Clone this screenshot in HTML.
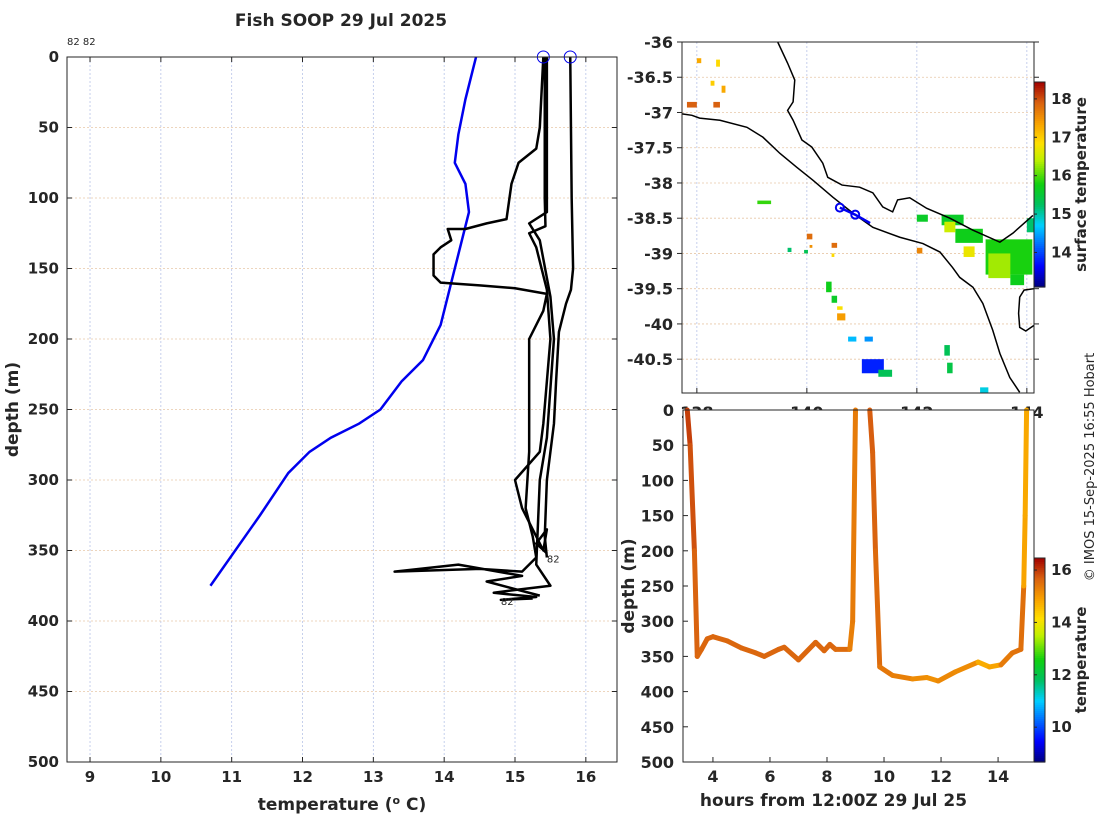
<!DOCTYPE html>
<html><head><meta charset="utf-8">
<style>
body{margin:0;background:#fff;}
svg text{font-family:"DejaVu Sans","Liberation Sans",sans-serif;fill:#262626;}
.tk{font-weight:bold;font-size:15px;}
.lb{font-weight:bold;font-size:17px;}
</style></head><body>
<svg id="s" width="1100" height="820" viewBox="0 0 1100 820">
<text x="341" y="26" text-anchor="middle" style="font-weight:bold;font-size:17px">Fish SOOP 29 Jul 2025</text>
<text x="67" y="45" style="font-size:10px">82 82</text>
<text transform="translate(1094,467) rotate(-90)" text-anchor="middle" style="font-size:13px">© IMOS 15-Sep-2025 16:55 Hobart</text>
<g id="g1"></g>
<g id="g2"></g>
<g id="g3"></g>
</svg>
<script>
// ---------- profile plot data ----------
const tTicks=[9,10,11,12,13,14,15,16];
const dTicks=[0,50,100,150,200,250,300,350,400,450,500];
const climT=[14.45,14.4,14.3,14.2,14.15,14.3,14.35,14.25,14.1,13.95,13.7,13.4,13.1,12.8,12.4,12.1,11.8,11.4,10.7];
const climD=[0,10,30,55,75,90,110,130,160,190,215,230,250,260,270,280,295,325,375];
const profA_T=[15.78,15.79,15.8,15.82,15.79,15.72,15.62,15.58,15.55,15.45,15.42,15.45];
const profA_D=[0,50,100,150,165,175,195,230,260,300,340,355];
const profB_T=[15.4,15.35,15.3,15.05,14.95,14.88,14.6,14.3,14.05,14.1,13.95,13.85,13.85,13.95,14.5,15.0,15.45,15.4,15.2,15.2,15.15,15.25,15.3,15.1,14.5,13.3,14.2,15.1,14.6,14.9,15.35];
const profB_D=[0,50,65,75,90,115,118,122,122,130,135,140,155,160,162,164,168,180,200,280,320,340,355,365,363,365,360,368,372,376,382];
const profC_T=[15.42,15.42,15.43,15.2,15.3,15.45,15.5,15.4,15.35,15.0,15.1,15.3,15.4,15.45,15.3,15.45];
const profC_D=[0,100,120,125,135,165,200,260,280,300,320,340,350,335,345,352];
const profD_T=[15.45,15.45,15.2,15.35,15.5,15.55,15.45,15.35,15.3,15.5,15.0,14.7,15.3,14.8,15.25];
const profD_D=[0,110,118,130,170,200,270,300,360,375,378,380,383,385,384];
// ---------- map data ----------
const lonTicks=[138,140,142,144];
const latTicks=[-36,-36.5,-37,-37.5,-38,-38.5,-39,-39.5,-40,-40.5];
const coastLon=[139.47,139.65,139.78,139.75,139.65,139.75,139.91,140.09,140.29,140.38,140.64,140.96,141.2,141.38,141.56,141.65,141.87,142.18,142.6,143.02,143.51,143.75,144.11];
const coastLat=[-36,-36.3,-36.54,-36.85,-36.97,-37.11,-37.39,-37.49,-37.72,-37.92,-38.03,-38.06,-38.14,-38.34,-38.41,-38.24,-38.21,-38.36,-38.5,-38.67,-38.84,-38.71,-38.46];
const shelfLon=[137.73,137.91,138.05,138.42,138.91,139.2,139.51,139.82,140.11,140.47,140.84,141.2,141.69,142.11,142.42,142.65,142.78,143.02,143.2,143.38,143.51,143.69,143.87];
const shelfLat=[-37.02,-37.04,-37.08,-37.11,-37.21,-37.35,-37.58,-37.78,-37.96,-38.2,-38.43,-38.63,-38.77,-38.86,-38.98,-39.2,-39.34,-39.48,-39.71,-40.09,-40.42,-40.76,-40.97];
const islandLon=[144.13,143.95,143.87,143.85,143.87,143.98,144.13];
const islandLat=[-39.5,-39.52,-39.62,-39.85,-40.05,-40.1,-40.02];
const trackLon=[140.6,140.88,141.15];
const trackLat=[-38.35,-38.45,-38.57];
const sstLon0=[143.25,143.3,142.45,142.7,142.5,142.85,142.0,143.7,144.0,137.82,138.3,138.25,138.35,138.45,138.0,140.0,140.45,140.05,140.45,140.35,140.45,140.55,140.55,140.75,141.05,141.0,141.3,142.5,142.55,143.15,139.1,139.65,139.95,142.0];
const sstLon1=[144.1,143.7,142.85,143.2,142.7,143.05,142.2,143.95,144.13,138.0,138.42,138.32,138.42,138.52,138.08,140.1,140.55,140.1,140.5,140.45,140.55,140.65,140.7,140.9,141.2,141.4,141.55,142.6,142.65,143.3,139.35,139.72,140.02,142.1];
const sstLat0=[-38.8,-39.0,-38.45,-38.65,-38.55,-38.9,-38.45,-39.3,-38.5,-36.85,-36.85,-36.55,-36.25,-36.62,-36.23,-38.72,-38.85,-38.88,-39.0,-39.4,-39.6,-39.75,-39.85,-40.18,-40.18,-40.5,-40.65,-40.3,-40.55,-40.9,-38.25,-38.92,-38.95,-38.92];
const sstLat1=[-39.3,-39.35,-38.6,-38.85,-38.7,-39.05,-38.55,-39.45,-38.7,-36.93,-36.93,-36.62,-36.35,-36.72,-36.3,-38.8,-38.92,-38.92,-39.05,-39.55,-39.7,-39.8,-39.95,-40.25,-40.25,-40.7,-40.75,-40.45,-40.7,-40.98,-38.3,-38.98,-39.0,-39.0];
const sstVal=[15.8,16.3,15.6,15.7,16.5,16.7,15.6,15.7,15.2,17.9,17.9,17.0,16.9,17.3,17.3,17.8,17.8,17.5,16.9,15.7,15.6,16.8,17.4,14.6,14.4,13.8,15.3,15.3,15.4,14.8,15.9,15.2,15.3,17.6];
const sstTicks=[14,15,16,17,18];
// ---------- section data ----------
const hTicks=[4,6,8,10,12,14];
const secH1=[3.1,3.2,3.35,3.45,3.6,3.8,4.0,4.5,5.0,5.5,5.8,6.3,6.5,7.0,7.6,7.9,8.1,8.3,8.8,8.9,9.0];
const secD1=[0,50,200,350,340,325,322,328,338,345,350,340,337,355,330,342,333,340,340,300,0];
const secT1=[16.0,15.9,15.7,15.6,15.6,15.6,15.6,15.6,15.6,15.6,15.6,15.6,15.6,15.6,15.6,15.6,15.6,15.6,15.5,15.1,15.6];
const secH2=[9.5,9.6,9.7,9.85,10.3,11.0,11.5,11.9,12.5,13.3,13.7,14.1,14.5,14.8,14.9,14.95,15.0];
const secD2=[0,60,200,365,377,382,380,385,372,358,365,362,345,340,250,150,0];
const secT2=[15.7,15.7,15.6,15.5,15.3,15.3,15.0,15.2,15.2,15.1,14.4,15.3,15.4,15.5,15.5,14.2,15.4];
const cTicks=[10,12,14,16];

const NS='http://www.w3.org/2000/svg';
function mk(tag,attrs,parent){const e=document.createElementNS(NS,tag);for(const k in attrs)e.setAttribute(k,attrs[k]);parent.appendChild(e);return e;}
const CS=[[0,0,0,128],[0.1,0,0,255],[0.3,0,208,255],[0.4,0,192,96],[0.5,16,208,16],[0.62,192,240,0],[0.7,255,224,0],[0.8,248,160,0],[0.9,216,96,16],[1,160,0,0]];
function jet(v,lo,hi){let t=Math.max(0,Math.min(1,(v-lo)/(hi-lo)));
 for(let i=1;i<CS.length;i++){if(t<=CS[i][0]){const a=CS[i-1],b=CS[i],f=(t-a[0])/(b[0]-a[0]);
  return `rgb(${Math.round(a[1]+(b[1]-a[1])*f)},${Math.round(a[2]+(b[2]-a[2])*f)},${Math.round(a[3]+(b[3]-a[3])*f)})`;}}
 return 'rgb(160,0,0)';}
function colorbar(g,x,y0,y1,lo,hi,ticks,label,name){
 for(let i=0;i<100;i++){mk('rect',{x:x,y:y0+(y1-y0)*i/100,width:11,height:(y1-y0)/100+0.6,fill:jet(hi-(hi-lo)*(i+0.5)/100,lo,hi)},g);}
 const f=mk('rect',{x:x,y:y0,width:11,height:y1-y0,fill:'none',stroke:'#262626','stroke-width':1},g);
 
 
 ticks.forEach(v=>{const yy=y1-(v-lo)/(hi-lo)*(y1-y0);
  mk('line',{x1:x,x2:x+3,y1:yy,y2:yy,stroke:'#262626'},g);
  const t=mk('text',{x:x+17,y:yy+5,class:'tk'},g);t.textContent=v;
  
  });
 const l=mk('text',{transform:`translate(${x+52},${(y0+y1)/2}) rotate(-90)`,'text-anchor':'middle',class:'lb',style:'font-size:15px'},g);l.textContent=label;
 
 
}
function poly(g,xs,ys,sx,sy,st,name){const p=mk('polyline',{points:xs.map((v,i)=>sx(v)+','+sy(ys[i])).join(' '),fill:'none',...st},g);
 
 return p;}

// ===== Profile plot =====
(function(){const g=document.getElementById('g1');
 const L=67,R=617,T=57,B=762,x0=8.675,x1=16.44;
 const sx=v=>L+(v-x0)/(x1-x0)*(R-L), sy=d=>T+d/500*(B-T);
 tTicks.forEach(v=>{mk('line',{x1:sx(v),x2:sx(v),y1:T,y2:B,stroke:'#b8c4e8','stroke-dasharray':'2,2','stroke-width':0.8},g);
  mk('line',{x1:sx(v),x2:sx(v),y1:B,y2:B-5,stroke:'#262626'},g);mk('line',{x1:sx(v),x2:sx(v),y1:T,y2:T+5,stroke:'#262626'},g);
  const t=mk('text',{x:sx(v),y:B+20,'text-anchor':'middle',class:'tk'},g);t.textContent=v;
  
  });
 dTicks.forEach(v=>{mk('line',{x1:L,x2:R,y1:sy(v),y2:sy(v),stroke:'#e8c8a8','stroke-dasharray':'2,2','stroke-width':0.8},g);
  mk('line',{x1:L,x2:L+5,y1:sy(v),y2:sy(v),stroke:'#262626'},g);mk('line',{x1:R,x2:R-5,y1:sy(v),y2:sy(v),stroke:'#262626'},g);
  const t=mk('text',{x:L-8,y:sy(v)+5,'text-anchor':'end',class:'tk'},g);t.textContent=v;
  
  });
 poly(g,climT,climD,sx,sy,{stroke:'#0000ee','stroke-width':2.5},'climatology-line');
 const st={stroke:'#000','stroke-width':2.5,'stroke-linejoin':'round'};
 poly(g,profA_T,profA_D,sx,sy,st,'profile-a');
 poly(g,profB_T,profB_D,sx,sy,st,'profile-b');
 poly(g,profC_T,profC_D,sx,sy,st,'profile-c');
 poly(g,profD_T,profD_D,sx,sy,st,'profile-d');
 [[15.4,0],[15.78,0]].forEach(p=>{const c=mk('circle',{cx:sx(p[0]),cy:sy(p[1]),r:6,fill:'none',stroke:'#0000ee','stroke-width':1},g);
  
  });
 let t=mk('text',{x:sx(15.45),y:sy(355)+5,style:'font-size:10px'},g);t.textContent='82';
 
 
 t=mk('text',{x:sx(14.8),y:sy(385)+5,style:'font-size:10px'},g);t.textContent='82';
 
 
 mk('rect',{x:L,y:T,width:R-L,height:B-T,fill:'none',stroke:'#262626','stroke-width':1},g);
 t=mk('text',{x:(L+R)/2,y:810,'text-anchor':'middle',class:'lb'},g);t.innerHTML='temperature (<tspan dy="-6" style="font-size:11px">o</tspan><tspan dy="6"> C)</tspan>';
 
 
 t=mk('text',{transform:`translate(18,${(T+B)/2}) rotate(-90)`,'text-anchor':'middle',class:'lb'},g);t.textContent='depth (m)';
 
 
})();

// ===== Map =====
(function(){const g=document.getElementById('g2');
 const L=682,R=1034,T=42,B=393,lo0=137.73,lo1=144.13,la0=-36,la1=-40.98;
 const sx=v=>L+(v-lo0)/(lo1-lo0)*(R-L), sy=v=>T+(v-la0)/(la1-la0)*(B-T);
 lonTicks.forEach(v=>{mk('line',{x1:sx(v),x2:sx(v),y1:T,y2:B,stroke:'#b8c4e8','stroke-dasharray':'2,2','stroke-width':0.8},g);
  mk('line',{x1:sx(v),x2:sx(v),y1:B,y2:B-5,stroke:'#262626'},g);
  const t=mk('text',{x:sx(v),y:B+25,'text-anchor':'middle',class:'tk',style:'font-size:16px'},g);t.textContent=v;
  
  });
 latTicks.forEach(v=>{mk('line',{x1:L,x2:R,y1:sy(v),y2:sy(v),stroke:'#e8c8a8','stroke-dasharray':'2,2','stroke-width':0.8},g);
  mk('line',{x1:L,x2:L-5,y1:sy(v),y2:sy(v),stroke:'#262626'},g);mk('line',{x1:R,x2:R+5,y1:sy(v),y2:sy(v),stroke:'#262626'},g);
  const t=mk('text',{x:L-9,y:sy(v)+6,'text-anchor':'end',class:'tk',style:'font-size:16px'},g);t.textContent=v;
  
  });
 sstVal.forEach((v,i)=>{const r=mk('rect',{x:sx(sstLon0[i]),y:sy(sstLat0[i]),width:sx(sstLon1[i])-sx(sstLon0[i]),height:sy(sstLat1[i])-sy(sstLat0[i]),fill:jet(v,13.1,18.44)},g);
  
  });
 poly(g,coastLon,coastLat,sx,sy,{stroke:'#000','stroke-width':1.5},'coastline');
 poly(g,shelfLon,shelfLat,sx,sy,{stroke:'#000','stroke-width':1.5},'shelf-line');
 poly(g,islandLon,islandLat,sx,sy,{stroke:'#000','stroke-width':1.5},'island-outline');
 poly(g,trackLon,trackLat,sx,sy,{stroke:'#0000ee','stroke-width':2.5},'ship-track');
 [0,1].forEach(i=>{const c=mk('circle',{cx:sx(trackLon[i]),cy:sy(trackLat[i]),r:4,fill:'none',stroke:'#0000ee','stroke-width':2},g);
  
  });
 mk('rect',{x:L,y:T,width:R-L,height:B-T,fill:'none',stroke:'#262626','stroke-width':1},g);
 colorbar(g,1034,82,287,13.1,18.44,sstTicks,'surface temperature','sst-colorbar');
})();

// ===== Section =====
(function(){const g=document.getElementById('g3');
 const L=683,R=1034,T=410,B=762,h0=2.95,h1=15.26;
 const sx=v=>L+(v-h0)/(h1-h0)*(R-L), sy=d=>T+d/500*(B-T);
 mk('rect',{x:L,y:T,width:R-L,height:B-T,fill:'#fff'},g);
 hTicks.forEach(v=>{mk('line',{x1:sx(v),x2:sx(v),y1:B,y2:B-5,stroke:'#262626'},g);
  const t=mk('text',{x:sx(v),y:B+20,'text-anchor':'middle',class:'tk',style:'font-size:16px'},g);t.textContent=v;
  
  });
 dTicks.forEach(v=>{mk('line',{x1:L,x2:L+5,y1:sy(v),y2:sy(v),stroke:'#262626'},g);
  const t=mk('text',{x:L-9,y:sy(v)+6,'text-anchor':'end',class:'tk',style:'font-size:16px'},g);t.textContent=v;
  
  });
 [[secH1,secD1,secT1],[secH2,secD2,secT2]].forEach(s=>{for(let i=0;i<s[0].length-1;i++){
  const l=mk('line',{x1:sx(s[0][i]),y1:sy(s[1][i]),x2:sx(s[0][i+1]),y2:sy(s[1][i+1]),stroke:jet((s[2][i]+s[2][i+1])/2,8.67,16.46),'stroke-width':5,'stroke-linecap':'round'},g);
  
  }});
 mk('rect',{x:L,y:T,width:R-L,height:B-T,fill:'none',stroke:'#262626','stroke-width':1},g);
 let t=mk('text',{x:(L+R)/2-25,y:806,'text-anchor':'middle',class:'lb'},g);t.textContent='hours from 12:00Z 29 Jul 25';
 
 
 t=mk('text',{transform:`translate(634,${(T+B)/2}) rotate(-90)`,'text-anchor':'middle',class:'lb'},g);t.textContent='depth (m)';
 
 
 colorbar(g,1034,558,762,8.67,16.46,cTicks,'temperature','temperature-colorbar');
})();
</script>
</body></html>
